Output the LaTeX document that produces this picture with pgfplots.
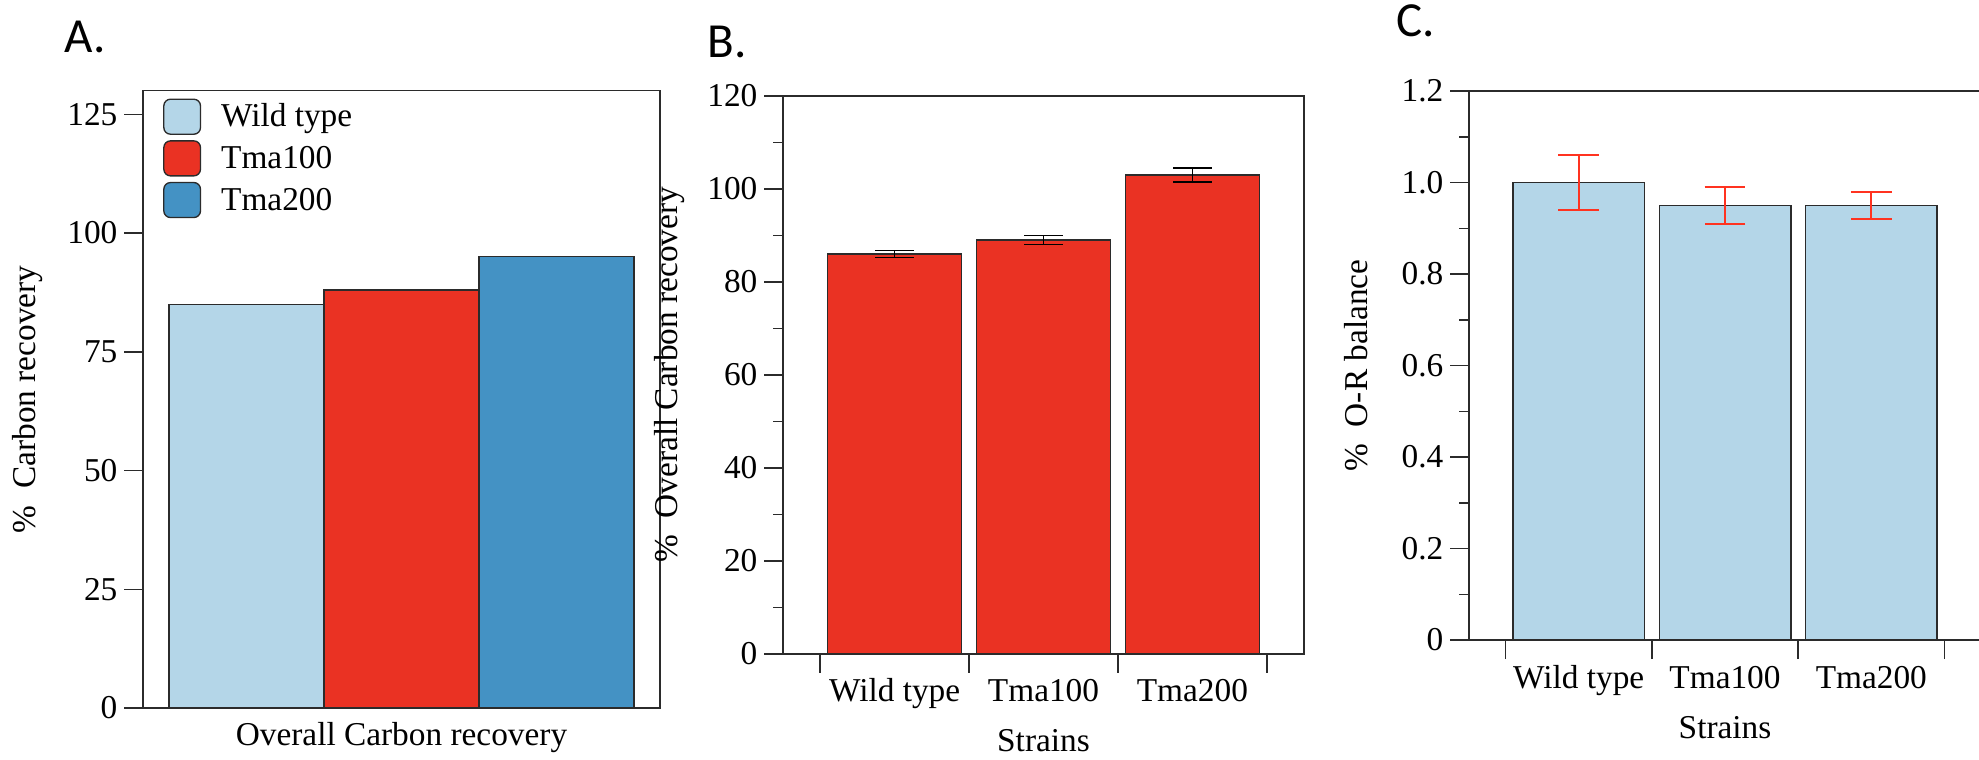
\documentclass[border=0pt]{standalone}
\usepackage{pgfplots}
\pgfplotsset{compat=1.18}
\usepackage{fontspec}
\setmainfont{Liberation Serif}
\newfontfamily\panelfont{Carlito}

\definecolor{wtblue}{HTML}{B4D6E8}
\definecolor{tmared}{HTML}{EA3223}
\definecolor{tmablue}{HTML}{4492C4}
\definecolor{errred}{HTML}{FF3320}
\definecolor{axgray}{HTML}{2B2B2B}

% 1 px of the reference = 0.3pt
\pgfplotsset{
  panel/.style={
    scale only axis,
    axis line style={axgray, line width=0.45pt},
    every tick/.style={axgray, line width=0.45pt},
    tick align=outside,
    major tick length=5.7pt,
    minor tick length=2.9pt,
    ytick pos=left,
    font=\fontsize{10}{12}\selectfont,
    yticklabel style={inner sep=1.8pt},
    /pgf/number format/assume math mode=true,
    ymin=0,
  },
  strains/.style={
    xmin=-0.75, xmax=2.75,
    xtick={-0.5,0.5,1.5,2.5},
    xticklabels={},
    xtick pos=bottom,
    extra x ticks={0,1,2},
    extra x tick labels={Wild type,Tma100,Tma200},
    extra x tick style={major tick length=0pt,
      xticklabel style={anchor=base, yshift=-14.4pt}},
    xlabel={Strains},
  },
  sq/.style={legend image code/.code={\draw[fill=#1, draw=axgray, line width=0.4pt, rounded corners=2pt] (0pt,-2.2pt) rectangle (11pt,8.3pt);}},
}

\begin{document}
\begin{tikzpicture}
\useasboundingbox (0pt,0pt) rectangle (593.7pt,-227.7pt);

% ---- A ----
\begin{axis}[panel,
  at={(42.9pt,-212.4pt)}, anchor=south west,
  width=155.1pt, height=185.25pt,
  xmin=-0.667, xmax=2.667, xtick=\empty,
  ymax=130, ytick={0,25,50,75,100,125},
  xlabel={Overall Carbon recovery},
  xlabel style={at={(axis description cs:0.5,-0.0615)}, anchor=base},
  ylabel={\%\ \ Carbon recovery},
  ylabel style={at={(axis description cs:-0.2224,0.5)}, anchor=center},
  legend style={draw=none, fill=none, inner sep=0pt, outer sep=0pt,
    at={(axis description cs:0.039,0.987)}, anchor=north west,
    row sep=1.6pt, font=\fontsize{10}{12}\selectfont,
    cells={anchor=base west},
    nodes={inner sep=0pt, text height=7pt, text depth=2.2pt},
    /tikz/every odd column/.append style={column sep=6pt}},
]
\addplot[ybar, bar width=1, bar shift=0pt, fill=wtblue, draw=axgray, line width=0.4pt, sq=wtblue]
  coordinates {(0,85)};
\addplot[ybar, bar width=1, bar shift=0pt, fill=tmared, draw=axgray, line width=0.4pt, sq=tmared]
  coordinates {(1,88)};
\addplot[ybar, bar width=1, bar shift=0pt, fill=tmablue, draw=axgray, line width=0.4pt, sq=tmablue]
  coordinates {(2,95)};
\legend{Wild type,Tma100,Tma200}
\end{axis}

% ---- B ----
\begin{axis}[panel, strains,
  at={(234.9pt,-196.14pt)}, anchor=south west,
  width=156.3pt, height=167.34pt,
  ymax=120, ytick={0,20,...,120}, minor y tick num=1,
  xlabel style={at={(axis description cs:0.5,-0.176)}, anchor=base},
  ylabel={\%\ \ Overall Carbon recovery},
  ylabel style={at={(axis description cs:-0.218,0.5)}, anchor=center},
]
\addplot[ybar, bar width=0.9, bar shift=0pt, fill=tmared, draw=axgray, line width=0.4pt,
  error bars/.cd, y dir=both, y explicit,
  error bar style={black, line width=0.4pt},
  error mark options={rotate=90, black, mark size=5.8pt, line width=0.4pt}]
  coordinates {(0,86) +- (0,0.7) (1,89) +- (0,1.0) (2,103) +- (0,1.5)};
\end{axis}

% ---- C ----
\begin{axis}[panel, strains,
  at={(440.7pt,-192pt)}, anchor=south west,
  width=153.6pt, height=164.7pt,
  ymax=1.2, ytick={0,0.2,...,1.2}, minor y tick num=1,
  yticklabels={0,0.2,0.4,0.6,0.8,1.0,1.2},
  xlabel style={at={(axis description cs:0.5,-0.1785)}, anchor=base},
  ylabel={\%\ \ O-R balance},
  ylabel style={at={(axis description cs:-0.2207,0.5)}, anchor=center},
]
\addplot[ybar, bar width=0.9, bar shift=0pt, fill=wtblue, draw=axgray, line width=0.4pt,
  error bars/.cd, y dir=both, y explicit,
  error bar style={errred, line width=0.55pt},
  error mark options={rotate=90, errred, mark size=6.1pt, line width=0.55pt}]
  coordinates {(0,1.0) +- (0,0.06) (1,0.95) +- (0,0.04) (2,0.95) +- (0,0.03)};
\end{axis}

\node[anchor=base west, inner sep=0pt, font=\panelfont\fontsize{14.7}{16}\selectfont] at (19.2pt,-15.81pt) {A.};
\node[anchor=base west, inner sep=0pt, font=\panelfont\fontsize{14.7}{16}\selectfont] at (212.0pt,-17.19pt) {B.};
\node[anchor=base west, inner sep=0pt, font=\panelfont\fontsize{14.7}{16}\selectfont] at (418.8pt,-11.01pt) {C.};
\end{tikzpicture}
\end{document}
